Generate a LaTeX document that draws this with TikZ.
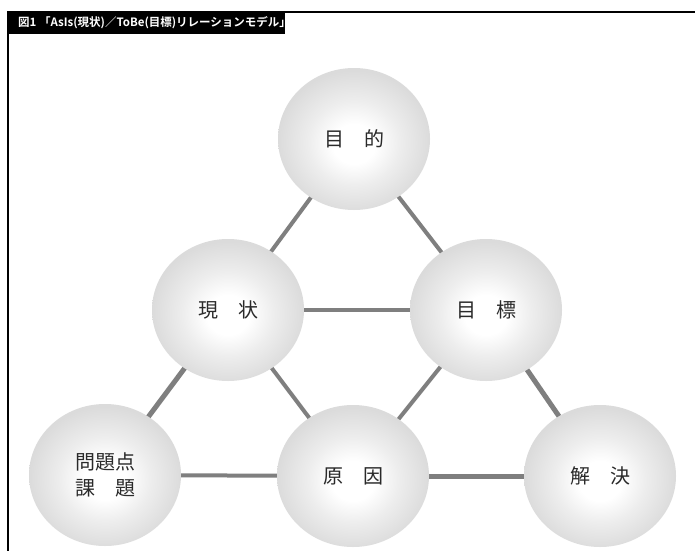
\documentclass[tikz,border=0pt]{standalone}
\usepackage{fontspec}
\newfontfamily\jp{Noto Sans CJK JP}
\newfontfamily\jpb{Noto Sans CJK JP Bold}
\usetikzlibrary{shapes.geometric,backgrounds}
\definecolor{lnc}{HTML}{7F7F7F}
\definecolor{txc}{HTML}{2A2A2A}
\pgfdeclareradialshading{orbshade}{\pgfpoint{0bp}{-2bp}}{color(0bp)=(white); color(7bp)=(white); color(15bp)=(black!7); color(25bp)=(black!14); color(50bp)=(black!14)}
\tikzset{
  orb/.style={ellipse, minimum width=152pt, minimum height=142pt, inner sep=0pt,
    shading=orbshade, text=txc, font=\jp\fontsize{20}{26}\selectfont, align=center},
  link/.style={draw=lnc, line width=#1},
  link/.default=4pt,
  titlebar/.style={fill=black, draw=none},
  titletext/.style={text=white, font=\jpb\fontsize{11.5}{14}\selectfont, anchor=west, inner sep=0pt}
}
\begin{document}
\begin{tikzpicture}[x=1pt, y=-1pt]
\useasboundingbox (0,0) rectangle (695,551);
% frame
\draw[line width=1.3pt, black] (695,12) -- (8,12) -- (8,551);
\node[titlebar, minimum width=277pt, minimum height=22pt, anchor=north west, inner sep=0pt] (bar) at (8,12) {};
\node[titletext] (title) at (18,23) {図1 「AsIs(現状)／ToBe(目標)リレーションモデル」};
% circles
\node[orb] (mokuteki) at (354,139) {目　的};
\node[orb] (genjo) at (228,310) {現　状};
\node[orb] (mokuhyo) at (486,310) {目　標};
\node[orb] (mondai) at (105,475) {問題点\\課　題};
\node[orb] (genin) at (353,476) {原　因};
\node[orb] (kaiketsu) at (600,476) {解　決};
% connectors
\begin{scope}[on background layer]
\fill[white] (0,0) rectangle (695,551);
\draw[link=4pt] (mokuteki.center) -- (genjo.center);
\draw[link=4pt] (mokuteki.center) -- (mokuhyo.center);
\draw[link=3.5pt] (genjo.center) -- (mokuhyo.center);
\draw[link=5pt] (genjo.center) -- (mondai.center);
\draw[link=4pt] (genjo.center) -- (genin.center);
\draw[link=4pt] (mokuhyo.center) -- (genin.center);
\draw[link=5pt] (mokuhyo.center) -- (kaiketsu.center);
\draw[link=4pt] (mondai.center) -- (genin.center);
\draw[link=5pt] (genin.center) -- (kaiketsu.center);
\end{scope}
\end{tikzpicture}
\end{document}
